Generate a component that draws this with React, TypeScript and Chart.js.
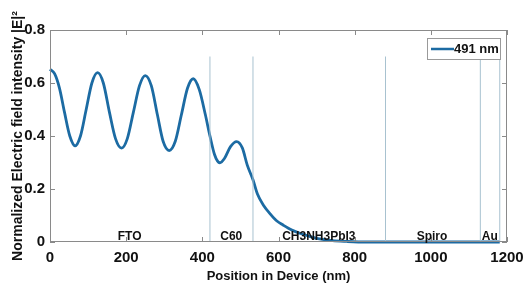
import React, { useEffect, useRef } from "react";
import { Chart, registerables } from "chart.js";

Chart.register(...registerables);

const positionNm = [
  0, 12, 25, 38, 52, 66, 80, 95, 110, 125, 140, 156, 172, 188, 203, 219, 235, 250,
  266, 282, 297, 313, 329, 345, 361, 376, 392, 408, 420, 432, 440, 446, 458, 474, 490,
  505, 518, 533, 545, 560, 577, 595, 612, 635, 656, 680, 700, 742, 780, 830, 950, 1050, 1181,
];
const intensity = [
  0.652, 0.635, 0.58, 0.49, 0.4, 0.363, 0.4, 0.5, 0.6, 0.639, 0.6, 0.49, 0.39, 0.354,
  0.39, 0.49, 0.59, 0.628, 0.59, 0.48, 0.38, 0.345, 0.38, 0.48, 0.58, 0.616, 0.575,
  0.48, 0.4, 0.33, 0.305, 0.299, 0.315, 0.36, 0.379, 0.355, 0.29, 0.235, 0.18, 0.14,
  0.108, 0.08, 0.064, 0.045, 0.033, 0.022, 0.014, 0.005, 0.002, 0.0, 0.0, 0.0, 0.0,
];
const layerBoundaries = [420, 533, 881, 1130, 1181];
const boundaryTop = 0.7;
const layerNames = ["FTO", "C60", "CH3NH3PbI3", "Spiro", "Au"];
const layerLabelPos = [209, 476, 706, 1003, 1155];
const seriesLabel = "491 nm";
const xTicks = [0, 200, 400, 600, 800, 1000, 1200];
const yTicks = [0, 0.2, 0.4, 0.6, 0.8];

const CURVE_COLOR = "#1c6ba3";
const LINE_COLOR = "#a8c2d0";
const FONT = "'Liberation Sans', Arial, sans-serif";

const decorPlugin = {
  id: "decor",
  afterDatasetsDraw(chart: any) {
    const { ctx, chartArea } = chart;
    const xs = chart.scales.x;
    const ys = chart.scales.y;
    const { left, right, top, bottom } = chartArea;
    ctx.save();
    ctx.strokeStyle = "#8a8a8a";
    ctx.lineWidth = 1;
    ctx.strokeRect(left + 0.5, top + 0.5, right - left - 1, bottom - top - 1);
    const tl = 5;
    ctx.beginPath();
    xTicks.forEach((v) => {
      const px = Math.round(xs.getPixelForValue(v)) + 0.5;
      ctx.moveTo(px, bottom);
      ctx.lineTo(px, bottom - tl);
      ctx.moveTo(px, top);
      ctx.lineTo(px, top + tl);
    });
    yTicks.forEach((v) => {
      const py = Math.round(ys.getPixelForValue(v)) + 0.5;
      ctx.moveTo(left, py);
      ctx.lineTo(left + tl, py);
      ctx.moveTo(right, py);
      ctx.lineTo(right - tl, py);
    });
    ctx.stroke();
    ctx.fillStyle = "#111";
    ctx.font = "bold 12px " + FONT;
    ctx.textAlign = "center";
    ctx.textBaseline = "alphabetic";
    layerNames.forEach((n, i) => {
      ctx.fillText(n, xs.getPixelForValue(layerLabelPos[i]), bottom - 2);
    });
    ctx.font = "bold 13px " + FONT;
    const lx = 427, ly = 38, lw = 74, lh = 22;
    ctx.fillStyle = "#fff";
    ctx.fillRect(lx, ly, lw, lh);
    ctx.strokeStyle = "#9a9a9a";
    ctx.lineWidth = 1;
    ctx.strokeRect(lx + 0.5, ly + 0.5, lw - 1, lh - 1);
    ctx.strokeStyle = CURVE_COLOR;
    ctx.lineWidth = 2.5;
    ctx.beginPath();
    ctx.moveTo(lx + 4, ly + 11);
    ctx.lineTo(lx + 27, ly + 11);
    ctx.stroke();
    ctx.fillStyle = "#111";
    ctx.textAlign = "left";
    ctx.textBaseline = "middle";
    ctx.fillText(seriesLabel, lx + 27, ly + 11.5);
    ctx.restore();
  },
};

export default function App() {
  const ref = useRef<HTMLCanvasElement | null>(null);
  useEffect(() => {
    if (!ref.current) return;
    const boundaryDatasets = layerBoundaries.map((b) => ({
      label: "b" + b,
      data: [
        { x: b, y: 0 },
        { x: b, y: boundaryTop },
      ],
      borderColor: LINE_COLOR,
      borderWidth: 1,
      pointRadius: 0,
      tension: 0,
    }));
    const chart = new Chart(ref.current, {
      type: "line",
      data: {
        datasets: [
          ...boundaryDatasets,
          {
            label: seriesLabel,
            data: positionNm.map((x, i) => ({ x, y: intensity[i] })),
            borderColor: CURVE_COLOR,
            borderWidth: 2.8,
            pointRadius: 0,
            cubicInterpolationMode: "monotone",
            clip: false,
          },
        ],
      },
      options: {
        responsive: false,
        animation: false,
        layout: { padding: { left: 0, top: 30, right: 17, bottom: 0 } },
        plugins: { legend: { display: false }, tooltip: { enabled: false } },
        scales: {
          x: {
            type: "linear",
            min: 0,
            max: 1200,
            afterBuildTicks: (s: any) => {
              s.ticks = xTicks.map((v) => ({ value: v }));
            },
            afterFit: (s: any) => {
              s.height = 42;
              s.paddingLeft = 0;
              s.paddingRight = 0;
            },
            grid: { display: false, drawTicks: false },
            border: { display: false },
            ticks: {
              color: "#111",
              font: { family: FONT, size: 15, weight: "bold" },
              padding: 7,
              maxRotation: 0,
              callback: (v: any) => String(v),
            },
            title: {
              display: true,
              text: "Position in Device (nm)",
              color: "#111",
              font: { family: FONT, size: 13, weight: "bold" },
              padding: { top: 1, bottom: 0 },
            },
          },
          y: {
            type: "linear",
            min: 0,
            max: 0.8,
            afterBuildTicks: (s: any) => {
              s.ticks = yTicks.map((v) => ({ value: v }));
            },
            afterFit: (s: any) => {
              s.width = 50;
              s.paddingTop = 0;
              s.paddingBottom = 0;
            },
            grid: { display: false, drawTicks: false },
            border: { display: false },
            ticks: {
              color: "#111",
              font: { family: FONT, size: 15, weight: "bold" },
              padding: 5,
              callback: (v: any) => (v === 0 ? "0" : Number(v).toFixed(1)),
            },
            title: {
              display: true,
              text: "Normalized Electric field intensity |E|²",
              color: "#111",
              font: { family: FONT, size: 14, weight: "bold" },
              padding: { top: 10, bottom: 0 },
            },
          },
        },
      },
      plugins: [decorPlugin],
    } as any);
    return () => chart.destroy();
  }, []);
  return (
    <div style={{ position: "fixed", left: 0, top: 0, width: 524, height: 284, background: "#fff" }}>
      <canvas ref={ref} width={524} height={284} style={{ display: "block" }} />
    </div>
  );
}
